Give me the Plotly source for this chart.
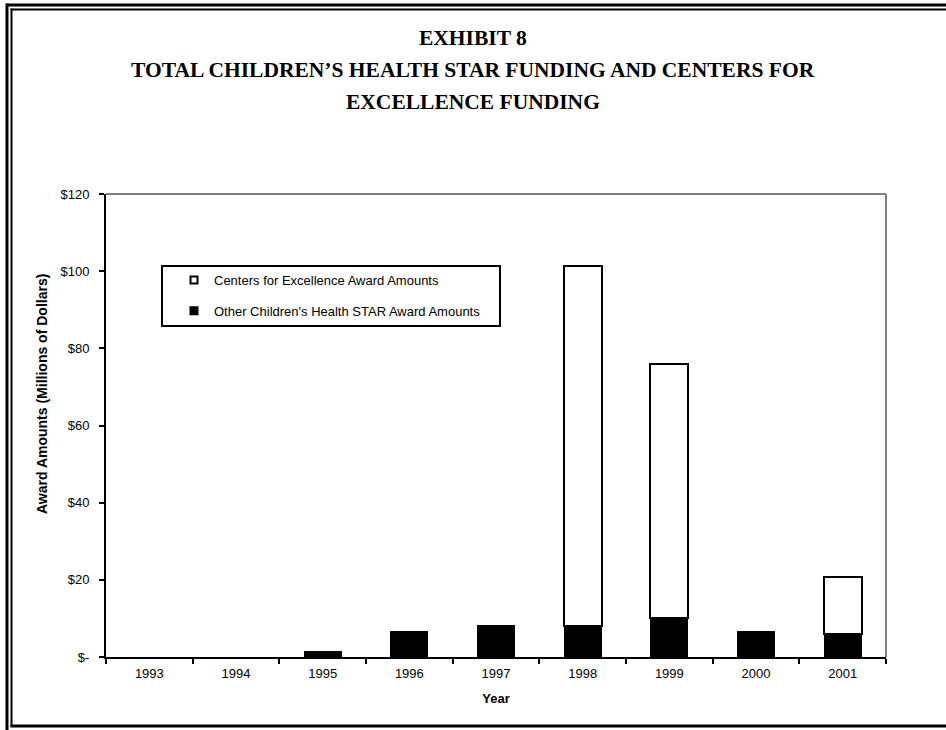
import plotly.graph_objects as go

years = ["1993", "1994", "1995", "1996", "1997", "1998", "1999", "2000", "2001"]
other_star = [0, 0, 1.5, 6.8, 8.3, 8.0, 10.0, 6.8, 6.0]
centers_excellence = [None, None, None, None, None, 93.3, 66.0, None, 14.8]
y_tickvals = [0, 20, 40, 60, 80, 100, 120]
y_ticktext = ["$-", "$20", "$40", "$60", "$80", "$100", "$120"]

W, H = 946, 730
L, R, T, B = 106, 886, 194, 657


def px(x):
    return (x - L) / (R - L)


def py(y):
    return (B - y) / (B - T)


SANS = "Liberation Sans, Arial, sans-serif"
SERIF = "Liberation Serif, Times New Roman, serif"

fig = go.Figure()
fig.add_trace(go.Bar(
    x=years, y=other_star, name="Other Children's Health STAR Award Amounts",
    marker=dict(color="black", line=dict(color="black", width=0)),
    width=0.44, showlegend=False,
))
fig.add_trace(go.Bar(
    x=years, y=centers_excellence, name="Centers for Excellence Award Amounts",
    marker=dict(color="white", line=dict(color="black", width=2)),
    width=0.44, showlegend=False,
))
# legend entries
fig.add_trace(go.Scatter(
    x=[None], y=[None], mode="markers", name="Centers for Excellence Award Amounts",
    marker=dict(symbol="square", size=7, color="white", line=dict(color="black", width=2)),
    legendgroup="a",
))
fig.add_trace(go.Scatter(
    x=[None], y=[None], mode="markers", name="Other Children's Health STAR Award Amounts",
    marker=dict(symbol="square", size=7, color="black", line=dict(color="black", width=2)),
    legendgroup="b",
))

fig.update_layout(
    width=W, height=H,
    margin=dict(l=L, r=W - R, t=T, b=H - B),
    barmode="stack",
    paper_bgcolor="white", plot_bgcolor="white",
    font=dict(family=SANS, size=13, color="black"),
    showlegend=True,
    legend=dict(
        x=px(174), y=py(265), xanchor="left", yanchor="top",
        bgcolor="rgba(0,0,0,0)", borderwidth=0,
        traceorder="grouped", tracegroupgap=11,
        font=dict(family=SANS, size=13, color="black"),
    ),
)

fig.update_xaxes(
    type="category", showgrid=False, zeroline=False,
    showline=True, linecolor="black", linewidth=2,
    ticks="outside", tickson="boundaries", ticklen=5, tickwidth=1.5, tickcolor="black",
    tickfont=dict(family=SANS, size=13), ticklabelstandoff=3,
    title=dict(text="<b>Year</b>", font=dict(family=SANS, size=13), standoff=14),
)
fig.update_yaxes(
    range=[0, 120], tickvals=y_tickvals, ticktext=y_ticktext,
    showgrid=False, zeroline=False,
    showline=True, linecolor="black", linewidth=2,
    ticks="outside", ticklen=5, tickwidth=1.5, tickcolor="black",
    tickfont=dict(family=SANS, size=13), ticklabelstandoff=7,
)

shapes = []
# gray top/right plot borders
shapes.append(dict(type="line", xref="paper", yref="paper", x0=0, x1=1, y0=1, y1=1,
                   line=dict(color="#808080", width=2)))
shapes.append(dict(type="line", xref="paper", yref="paper", x0=1, x1=1, y0=0, y1=1,
                   line=dict(color="#808080", width=2)))
# legend box
shapes.append(dict(type="rect", xref="paper", yref="paper",
                   x0=px(162), x1=px(500), y0=py(326), y1=py(266),
                   line=dict(color="black", width=2), fillcolor="rgba(0,0,0,0)", layer="below"))
# page frame (double lines top/left, single bottom)
shapes.append(dict(type="line", xref="paper", yref="paper", x0=px(6), x1=px(946), y0=py(5), y1=py(5),
                   line=dict(color="black", width=3)))
shapes.append(dict(type="line", xref="paper", yref="paper", x0=px(10.5), x1=px(946), y0=py(9.5), y1=py(9.5),
                   line=dict(color="black", width=2)))
shapes.append(dict(type="line", xref="paper", yref="paper", x0=px(7), x1=px(7), y0=py(730), y1=py(3.5),
                   line=dict(color="black", width=3)))
shapes.append(dict(type="line", xref="paper", yref="paper", x0=px(11.5), x1=px(11.5), y0=py(727), y1=py(8.5),
                   line=dict(color="black", width=2)))
shapes.append(dict(type="line", xref="paper", yref="paper", x0=px(10.5), x1=px(946), y0=py(726), y1=py(726),
                   line=dict(color="black", width=3)))
fig.update_layout(shapes=shapes)

anns = []
title_lines = ["EXHIBIT 8",
               "TOTAL CHILDREN\u2019S HEALTH STAR FUNDING AND CENTERS FOR",
               "EXCELLENCE FUNDING"]
for txt, yy in zip(title_lines, [38, 70, 102]):
    anns.append(dict(text="<b>" + txt + "</b>", xref="paper", yref="paper",
                     x=px(473), y=py(yy), xanchor="center", yanchor="middle",
                     showarrow=False, font=dict(family=SERIF, size=21.5, color="black")))
anns.append(dict(text="<b>Award Amounts (Millions of Dollars)</b>", xref="paper", yref="paper",
                 x=px(42), y=py(394), xanchor="center", yanchor="middle", textangle=-90,
                 showarrow=False, font=dict(family=SANS, size=14, color="black")))
fig.update_layout(annotations=anns)

fig.write_html("out.html", config={"displayModeBar": False},
               post_script="document.body.style.margin='0px';")
